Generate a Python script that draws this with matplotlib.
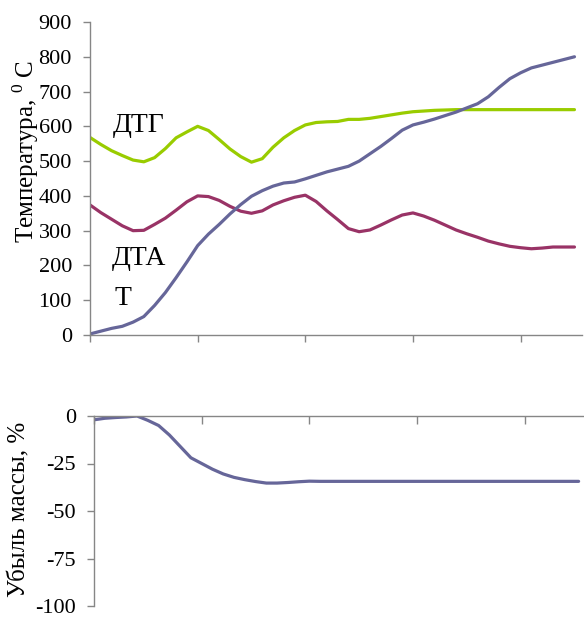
import matplotlib
matplotlib.use("Agg")
import matplotlib.pyplot as plt
import numpy as np

plt.rcParams['font.family'] = ['Liberation Serif', 'DejaVu Serif']
plt.rcParams['mathtext.fontset'] = 'custom'
plt.rcParams['mathtext.rm'] = 'Liberation Serif'
plt.rcParams['axes.unicode_minus'] = False

# ---- data ----
dtg = [568, 548, 530, 516, 503, 498, 510, 536, 567, 584,
       600, 588, 562, 535, 513, 497, 507, 540, 567, 588,
       604, 611, 613, 614, 620, 620, 623, 628, 633, 638,
       642, 644, 646, 647, 648, 648, 648, 648, 648, 648,
       648, 648, 648, 648, 648, 648]
dta = [374, 352, 333, 314, 300, 301, 318, 336, 359, 383,
       400, 398, 387, 370, 356, 350, 357, 374, 386, 396,
       402, 384, 357, 332, 306, 297, 302, 316, 331, 345,
       351, 342, 330, 316, 302, 291, 281, 270, 262, 255,
       251, 248, 250, 253, 253, 253]
temp = [3, 11, 19, 25, 37, 53, 85, 122, 165, 210,
        257, 290, 318, 348, 375, 399, 415, 428, 437, 440,
        449, 459, 469, 477, 485, 500, 521, 542, 565, 589,
        604, 612, 621, 631, 641, 653, 665, 685, 712, 737,
        754, 768, 776, 784, 792, 800]
mass = [-2, -1.2, -0.8, -0.5, 0, -2.3, -5, -10, -16, -22,
        -25, -28, -30.5, -32.3, -33.5, -34.5, -35.3, -35.3, -35, -34.6,
        -34.3, -34.4, -34.4, -34.4, -34.4, -34.4, -34.4, -34.4, -34.4, -34.4,
        -34.4, -34.4, -34.4, -34.4, -34.4, -34.4, -34.4, -34.4, -34.4, -34.4,
        -34.4, -34.4, -34.4, -34.4, -34.4, -34.4]
x = np.arange(len(temp))

top_yticks = [0, 100, 200, 300, 400, 500, 600, 700, 800, 900]
bot_yticks = [0, -25, -50, -75, -100]
xticks = [0, 10, 20, 30, 40]

C_DTG = '#99CC00'
C_DTA = '#993366'
C_T = '#666699'
SPINE = '#868686'

W, H = 584, 617
fig = plt.figure(figsize=(W / 100, H / 100), dpi=100)

def frac(l, t, r, b):
    return [l / W, 1 - b / H, (r - l) / W, (b - t) / H]

ax1 = fig.add_axes(frac(90, 22, 582, 335))
ax1.plot(x, dtg, color=C_DTG, lw=2.3, solid_capstyle='round')
ax1.plot(x, dta, color=C_DTA, lw=2.3, solid_capstyle='round')
ax1.plot(x, temp, color=C_T, lw=2.3, solid_capstyle='round')
ax1.set_xlim(0, 45.7)
ax1.set_ylim(0, 900)
ax1.set_yticks(top_yticks)
ax1.set_xticks(xticks)
ax1.set_xticklabels([])
for s in ['top', 'right']:
    ax1.spines[s].set_visible(False)
for s in ['left', 'bottom']:
    ax1.spines[s].set_color(SPINE)
    ax1.spines[s].set_linewidth(1)
ax1.tick_params(axis='y', direction='out', length=5, width=1, color=SPINE,
                labelsize=16, pad=8)
ax1.tick_params(axis='x', direction='out', length=5, width=1, color=SPINE)

ax1.text(4.55, 584, 'ДТГ', fontsize=20, ha='center', va='baseline')
ax1.text(4.55, 201, 'ДТА', fontsize=20, ha='center', va='baseline')
ax1.text(3.07, 86, 'Т', fontsize=20, ha='center', va='baseline')

ax2 = fig.add_axes(frac(94, 416, 584, 606))
ax2.plot(x, mass, color=C_T, lw=2.3, solid_capstyle='round')
ax2.set_xlim(0, 45.5)
ax2.set_ylim(-100, 0)
ax2.set_yticks(bot_yticks)
ax2.set_xticks(xticks)
ax2.set_xticklabels([])
for s in ['bottom', 'right']:
    ax2.spines[s].set_visible(False)
for s in ['left', 'top']:
    ax2.spines[s].set_color(SPINE)
    ax2.spines[s].set_linewidth(1)
ax2.xaxis.set_ticks_position('top')
ax2.tick_params(axis='x', direction='in', length=6, width=1, color=SPINE)
ax2.tick_params(axis='y', direction='out', length=5, width=1, color=SPINE,
                labelsize=16, pad=8)

fig.text(26 / W, 1 - 152 / H, 'Температура, $^{\\mathrm{0}}$ С', rotation=90,
         fontsize=18, ha='center', va='center')
fig.text(19 / W, 1 - 509 / H, 'Убыль массы, %', rotation=90,
         fontsize=18, ha='center', va='center')

fig.savefig('out.png', dpi=100)
